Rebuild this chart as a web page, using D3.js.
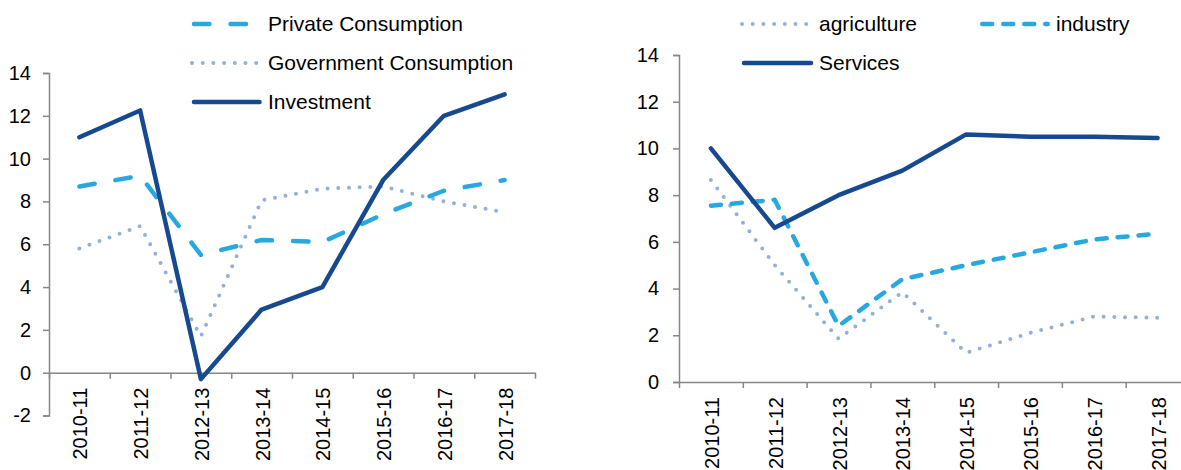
<!DOCTYPE html>
<html>
<head>
<meta charset="utf-8">
<script src="https://cdn.jsdelivr.net/npm/d3@7"></script>
<style>
  body { margin: 0; background: #fff; }
  svg { display: block; font-family: "Liberation Sans", Arial, sans-serif; }
  .axis path, .axis line { stroke: #868686; stroke-width: 1.5; }
  .axis text { fill: #000; font-size: 20px; }
</style>
</head>
<body>
<div id="chart"></div>
<script>
// data
const years = ["2010-11", "2011-12", "2012-13", "2013-14", "2014-15", "2015-16", "2016-17", "2017-18"];

// left panel
const privateConsumption = [8.7, 9.2, 5.5, 6.2, 6.1, 7.4, 8.5, 9.0];
const governmentConsumption = [5.8, 6.85, 1.7, 8.05, 8.6, 8.7, 8.0, 7.5];
const investment = [11.0, 12.25, -0.3, 2.95, 4.0, 9.0, 12.0, 13.0];
const leftTicks = [-2, 0, 2, 4, 6, 8, 10, 12, 14];

// right panel
const agriculture = [8.65, 5.0, 1.85, 3.85, 1.25, 2.1, 2.8, 2.75];
const industry = [7.55, 7.8, 2.4, 4.4, 5.0, 5.55, 6.1, 6.35];
const services = [10.0, 6.6, 8.0, 9.05, 10.6, 10.5, 10.5, 10.45];
const rightTicks = [0, 2, 4, 6, 8, 10, 12, 14];

// line styles
const darkBlue = "#17498f",
  lightBlue = "#29a8df",
  greyBlue = "#95b0d6";

const styles = {
  solid: { color: darkBlue, width: 4.5, dash: null },
  longDash: { color: lightBlue, width: 4.5, dash: "15.5,21" },
  shortDash: { color: lightBlue, width: 4.5, dash: "10,11" },
  dots: { color: greyBlue, width: 4, dash: "0,10.7" }
};

const svg = d3
  .select("#chart")
  .append("svg")
  .attr("width", 1181)
  .attr("height", 470);

function panel(opts) {
  const g = svg.append("g");

  const x = d3.scaleBand().domain(years).range(opts.xRange).padding(0);
  const y = d3.scaleLinear().domain(opts.yDomain).range(opts.yRange);

  // band boundary ticks
  const xEdge = d3.scaleLinear().domain([0, years.length]).range(opts.xRange);
  g.append("g")
    .attr("class", "axis")
    .attr("transform", `translate(0,${y(0)})`)
    .call(
      d3.axisBottom(xEdge)
        .tickValues(d3.range(0, years.length + 1))
        .tickSize(6)
        .tickSizeOuter(0)
        .tickFormat("")
    );

  // category labels, rotated
  g.append("g")
    .attr("class", "axis")
    .attr("transform", `translate(0,${y(0)})`)
    .call(d3.axisBottom(x).tickSize(0))
    .call((a) => a.select(".domain").remove())
    .selectAll("text")
    .attr("transform", "rotate(-90)")
    .attr("text-anchor", "end")
    .attr("x", -15)
    .attr("y", 0)
    .attr("dy", "0.4em");

  // y axis (plain hyphen for negatives, like the original)
  g.append("g")
    .attr("class", "axis")
    .attr("transform", `translate(${opts.xRange[0]},0)`)
    .call(
      d3.axisLeft(y)
        .tickValues(opts.yTicks)
        .tickSize(6)
        .tickPadding(opts.pad)
        .tickFormat((d) => String(d))
    );

  const line = d3
    .line()
    .x((d, i) => x(years[i]) + x.bandwidth() / 2)
    .y((d) => y(d));

  opts.series.forEach((s) => {
    const st = styles[s.style];
    g.append("path")
      .datum(s.values)
      .attr("fill", "none")
      .attr("stroke", st.color)
      .attr("stroke-width", st.width)
      .attr("stroke-linecap", "round")
      .attr("stroke-linejoin", "round")
      .attr("stroke-dasharray", st.dash)
      .attr("d", line);
  });

  // legend
  opts.legend.forEach((l) => {
    const s = opts.series.find((d) => d.name === l.name);
    const st = styles[s.style];
    g.append("line")
      .attr("x1", l.x1)
      .attr("x2", l.x2)
      .attr("y1", l.y)
      .attr("y2", l.y)
      .attr("stroke", st.color)
      .attr("stroke-width", st.width)
      .attr("stroke-linecap", "round")
      .attr("stroke-dasharray", st.dash);
    g.append("text")
      .attr("x", l.tx)
      .attr("y", l.y)
      .attr("dy", "0.35em")
      .style("font-size", "21px")
      .attr("fill", "#000")
      .text(l.name);
  });
}

panel({
  xRange: [49, 535],
  yDomain: [-2, 14],
  yRange: [415.5, 73],
  yTicks: leftTicks,
  pad: 12,
  series: [
    { name: "Government Consumption", values: governmentConsumption, style: "dots" },
    { name: "Private Consumption", values: privateConsumption, style: "longDash" },
    { name: "Investment", values: investment, style: "solid" }
  ],
  legend: [
    { name: "Private Consumption", x1: 194, x2: 258, y: 24, tx: 268 },
    { name: "Government Consumption", x1: 192, x2: 258, y: 63, tx: 268 },
    { name: "Investment", x1: 194, x2: 259.5, y: 102, tx: 268 }
  ]
});

panel({
  xRange: [679, 1189.5],
  yDomain: [0, 14],
  yRange: [382, 55],
  yTicks: rightTicks,
  pad: 14,
  series: [
    { name: "agriculture", values: agriculture, style: "dots" },
    { name: "industry", values: industry, style: "shortDash" },
    { name: "Services", values: services, style: "solid" }
  ],
  legend: [
    { name: "agriculture", x1: 742, x2: 809, y: 24, tx: 819 },
    { name: "industry", x1: 982.25, x2: 1047.75, y: 24, tx: 1056 },
    { name: "Services", x1: 744, x2: 811, y: 63, tx: 819 }
  ]
});
</script>
</body>
</html>
